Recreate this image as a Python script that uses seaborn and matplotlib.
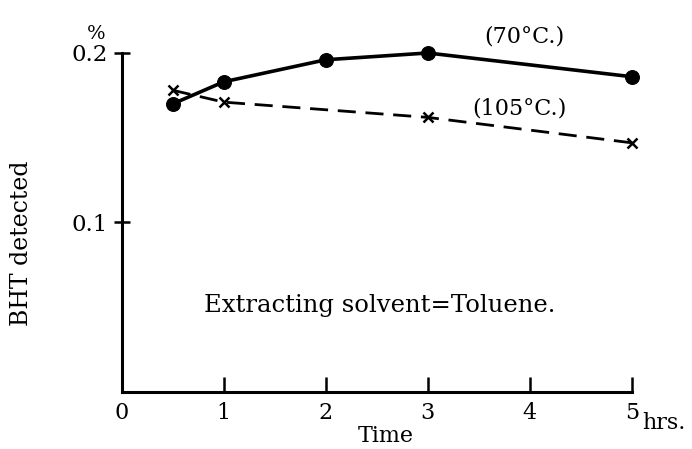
import matplotlib
matplotlib.use("Agg")
import matplotlib.pyplot as plt
import pandas as pd
import seaborn as sns

# time in hours, BHT detected in %
time_70 = [0.5, 1, 2, 3, 5]
bht_70 = [0.170, 0.183, 0.196, 0.200, 0.186]
time_105 = [0.5, 1, 3, 5]
bht_105 = [0.178, 0.171, 0.162, 0.147]
x_ticks = [0, 1, 2, 3, 4, 5]
y_ticks = [0.1, 0.2]

sns.set_style("ticks", {"axes.edgecolor": "black", "text.color": "black",
                        "xtick.color": "black", "ytick.color": "black",
                        "axes.labelcolor": "black"})
plt.rcParams["font.family"] = ["DejaVu Serif"]

df70 = pd.DataFrame({"time": time_70, "bht": bht_70})
df105 = pd.DataFrame({"time": time_105, "bht": bht_105})

fig = plt.figure(figsize=(6.92, 4.49), dpi=100)
ax = fig.add_axes([0.176, 0.127, 0.737, 0.755])

sns.lineplot(data=df70, x="time", y="bht", ax=ax, color="black", lw=2.6,
             marker="o", markersize=10, markeredgecolor="black", clip_on=False)
sns.lineplot(data=df105, x="time", y="bht", ax=ax, color="black", lw=2,
             marker="x", markersize=7, markeredgewidth=1.8, markeredgecolor="black",
             linestyle=(0, (6.5, 3.5)), clip_on=False)

ax.set_xlim(0, 5)
ax.set_ylim(0, 0.2)
ax.set_xticks(x_ticks)
ax.set_yticks(y_ticks)
ax.set_yticklabels(["0.1", "0.2"])
ax.tick_params(axis="x", direction="in", length=11, width=1.8, labelsize=16, pad=7)
ax.tick_params(axis="y", direction="inout", length=12, width=1.8, labelsize=16.5, pad=4)
sns.despine(ax=ax)
for s in ["left", "bottom"]:
    ax.spines[s].set_linewidth(2.2)

ax.set_xlabel("Time", fontsize=16)
ax.set_ylabel("BHT detected", fontsize=17)
ax.xaxis.set_label_coords(0.518, -0.098)
ax.yaxis.set_label_coords(-0.175, 0.44)
ax.text(5.1, -0.012, "hrs.", fontsize=16, va="top", ha="left")
ax.text(-0.25, 0.206, "%", fontsize=14, ha="center", va="bottom")
ax.text(3.95, 0.203, "(70°C.)", fontsize=16, ha="center", va="bottom")
ax.text(3.9, 0.161, "(105°C.)", fontsize=16, ha="center", va="bottom")
ax.text(2.53, 0.051, "Extracting solvent=Toluene.", fontsize=17.5, ha="center", va="center")

fig.savefig("out.png", dpi=100)
